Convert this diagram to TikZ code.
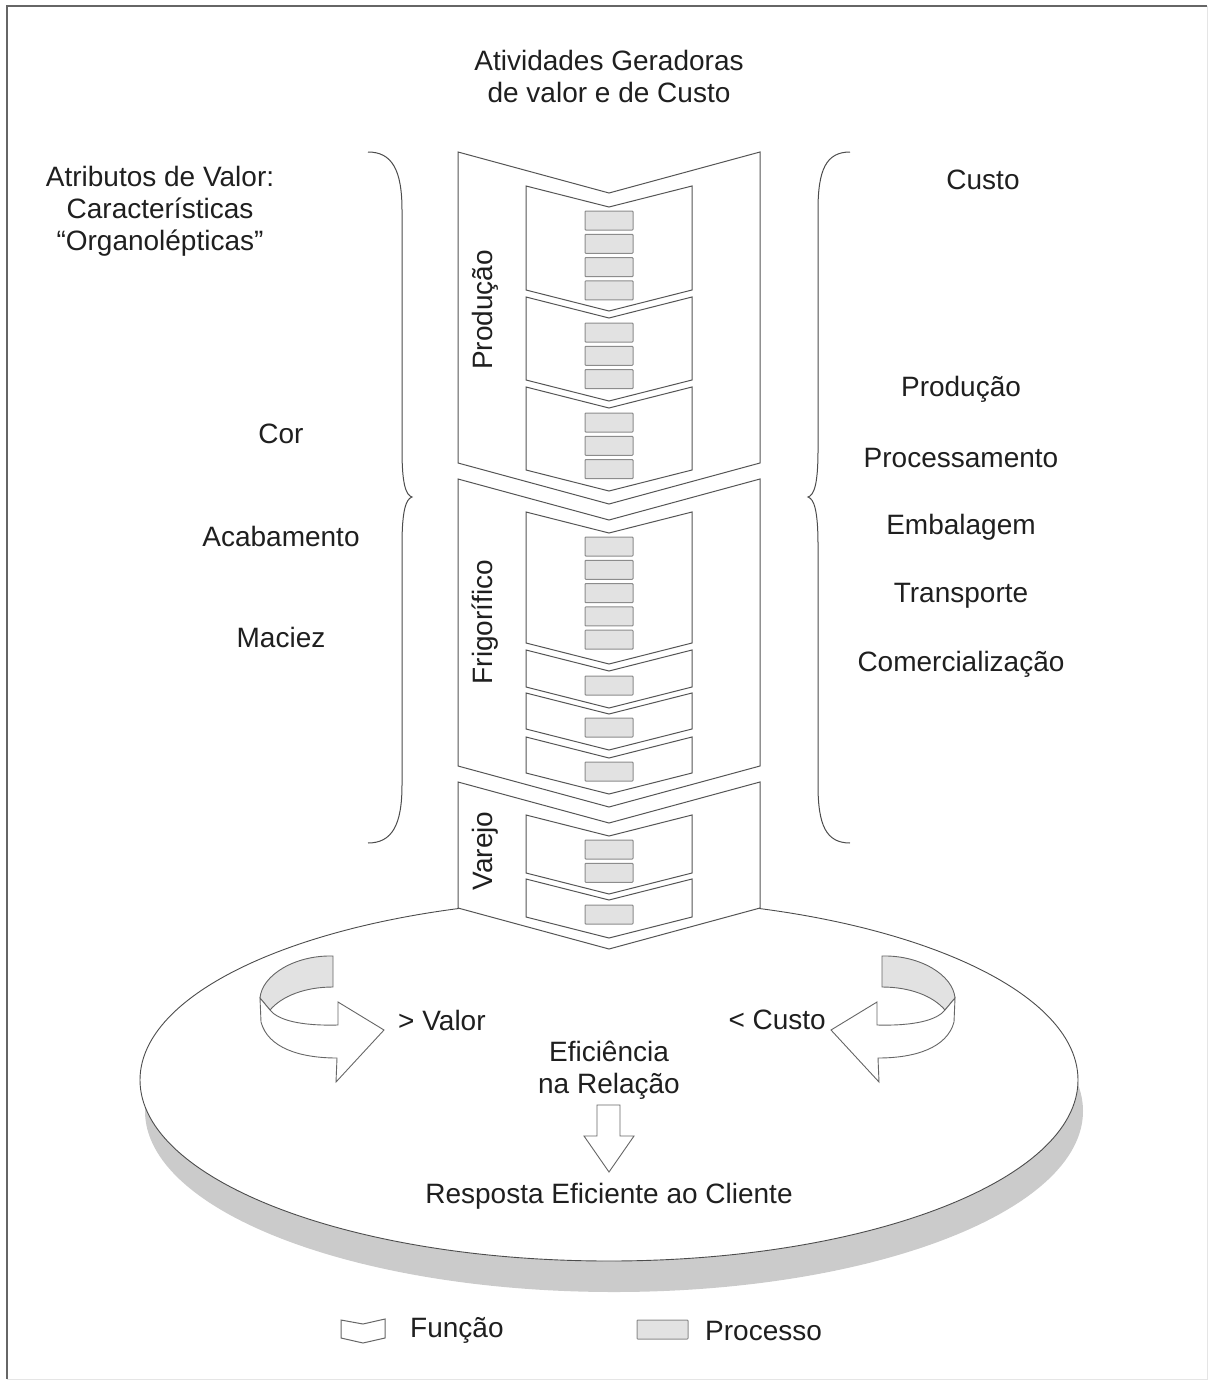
\documentclass[tikz,border=0pt]{standalone}
\usepackage{fontspec}
\setmainfont{Liberation Sans}
\usetikzlibrary{positioning}

\definecolor{linha}{HTML}{555555}
\definecolor{cinzaproc}{HTML}{E2E2E2}
\definecolor{sombra}{HTML}{CBCBCB}

\tikzset{
  texto/.style={font=\fontsize{28}{32}\selectfont, text=black!88, inner sep=0pt},
  funcao/.style={draw=linha, fill=white, line width=1pt, line join=miter},
  processo/.style={draw=black!45, fill=cinzaproc, line width=1pt, rounded corners=0.8pt},
  seta/.style={draw=black!60, fill=white, line width=0.9pt, line join=miter},
  banda/.style={draw=black!60, fill=cinzaproc, line width=0.9pt}
}

% curved arrow (left version, absolute coordinates)
\newcommand{\setacurva}{%
  \filldraw[banda] (333,956) .. controls (295,955) and (262,975) .. (260,998)
     -- (270,1010) .. controls (282,996) and (305,987) .. (333,987) -- cycle;
  \filldraw[seta] (260,998) -- (261,1022) .. controls (268,1048) and (300,1058) .. (337,1058)
     -- (336,1082) -- (384,1030) -- (338,1002) -- (338,1025)
     .. controls (300,1026) and (278,1020) .. (270,1010) -- cycle;
}

\begin{document}
\begin{tikzpicture}[x=1pt, y=-1pt]
  \useasboundingbox (0,0) rectangle (1209,1381);

  % Define parameters
  \def\colL{458}     % outer column left
  \def\colR{760}     % outer column right
  \def\colD{41}      % outer notch depth
  \def\inL{526}      % inner function left
  \def\inR{692}      % inner function right
  \def\inD{21}       % inner notch depth
  \def\boxL{585}     % process box left
  \def\boxR{633}     % process box right
  \def\boxH{19}      % process box height
  \def\boxP{23.3}    % process box pitch

  % frame
  \draw[black!60, line width=2pt] (7,1379) -- (7,6) -- (1207,6);
  \draw[black!10, line width=1pt] (1207,6) -- (1207,1379) -- (7,1379);

  % base disc with shadow
  \fill[sombra] (614,1111) ellipse [x radius=469pt, y radius=181pt];
  \filldraw[fill=white, draw=black!70, line width=0.9pt] (609,1080) ellipse [x radius=469pt, y radius=181pt];

  %% outer functions (Producao, Frigorifico, Varejo)
  \foreach \yt/\yb in {152/463, 479/766, 782/908} {
      \draw[funcao] (\colL,\yt) -- ({(\colL+\colR)/2},{\yt+\colD}) -- (\colR,\yt)
        -- (\colR,\yb) -- ({(\colL+\colR)/2},{\yb+\colD}) -- (\colL,\yb) -- cycle;
  }

  %% inner functions
  \foreach \yt/\yb in {186/290, 297/380, 387/470, 512/643, 650/687, 693/729, 737/773, 815/873, 879/917} {
      \draw[funcao] (\inL,\yt) -- ({(\inL+\inR)/2},{\yt+\inD}) -- (\inR,\yt)
        -- (\inR,\yb) -- ({(\inL+\inR)/2},{\yb+\inD}) -- (\inL,\yb) -- cycle;
  }

  %% processes: first top / number of boxes
  \foreach \top/\n in {211/4, 323/3, 413/3, 537/5, 676/1, 718/1, 762/1, 840/2, 905/1} {
      \foreach \k in {1,...,\n} {
          \draw[processo] (\boxL,{\top+(\k-1)*\boxP}) rectangle (\boxR,{\top+(\k-1)*\boxP+\boxH});
      }
  }

  % column labels
  \node[texto, rotate=90] (lblProducao) at (485,310) {Produção};
  \node[texto, rotate=90] (lblFrigorifico) at (485,622) {Frigorífico};
  \node[texto, rotate=90] (lblVarejo) at (485,851) {Varejo};

  % braces
  \draw[black!70, line width=1pt] (368,152) .. controls (392,152) and (402,170) .. (402,210)
     -- (402,450) .. controls (402,485) and (406,495) .. (412,497)
     .. controls (406,499) and (402,510) .. (402,545) -- (402,785)
     .. controls (402,825) and (392,843) .. (368,843);
  \draw[black!70, line width=1pt] (850,152) .. controls (826,152) and (818,170) .. (818,210)
     -- (818,450) .. controls (818,485) and (814,495) .. (808,497)
     .. controls (814,499) and (818,510) .. (818,545) -- (818,785)
     .. controls (818,825) and (826,843) .. (850,843);

  % titles
  \node[texto, align=center] (titulo) at (609,76) {Atividades Geradoras\\de valor e de Custo};
  \node[texto, align=center] (atributos) at (160,211) {Atributos de Valor:\\Características\\“Organolépticas”};
  \node[texto] (custo) at (983,180) {Custo};

  % value attributes
  \node[texto] (cor) at (281,434) {Cor};
  \node[texto] (acabamento) at (281,536) {Acabamento};
  \node[texto] (maciez) at (281,637) {Maciez};

  % cost items
  \node[texto] (cProducao) at (961,389) {Produção};
  \node[texto] (cProcessamento) at (961,458) {Processamento};
  \node[texto] (cEmbalagem) at (961,527) {Embalagem};
  \node[texto] (cTransporte) at (961,596) {Transporte};
  \node[texto] (cComercial) at (961,664) {Comercialização};

  % curved arrows
  \setacurva
  \begin{scope}[xshift=1215pt, xscale=-1]
      \setacurva
  \end{scope}
  \node[texto, anchor=west] (maisValor) at (398,1020) {> Valor};
  \node[texto, anchor=east] (menosCusto) at (826,1020) {< Custo};

  % efficiency
  \node[texto, align=center] (eficiencia) at (609,1070) {Eficiência\\na Relação};
  \draw[seta] (597,1105) -- (620,1105) -- (620,1136) -- (634,1136) -- (609,1172)
     -- (584,1136) -- (597,1136) -- cycle;
  \node[texto] (resposta) at (609,1196) {Resposta Eficiente ao Cliente};

  % legend
  \draw[funcao, draw=black!60] (341,1320) -- (363,1324) -- (385,1319) -- (385,1338)
     -- (363,1343) -- (341,1338) -- cycle;
  \node[texto, anchor=west] (legFuncao) at (410,1330) {Função};
  \draw[processo] (637,1320) rectangle (688,1339);
  \node[texto, anchor=west] (legProcesso) at (705,1331) {Processo};
\end{tikzpicture}
\end{document}
